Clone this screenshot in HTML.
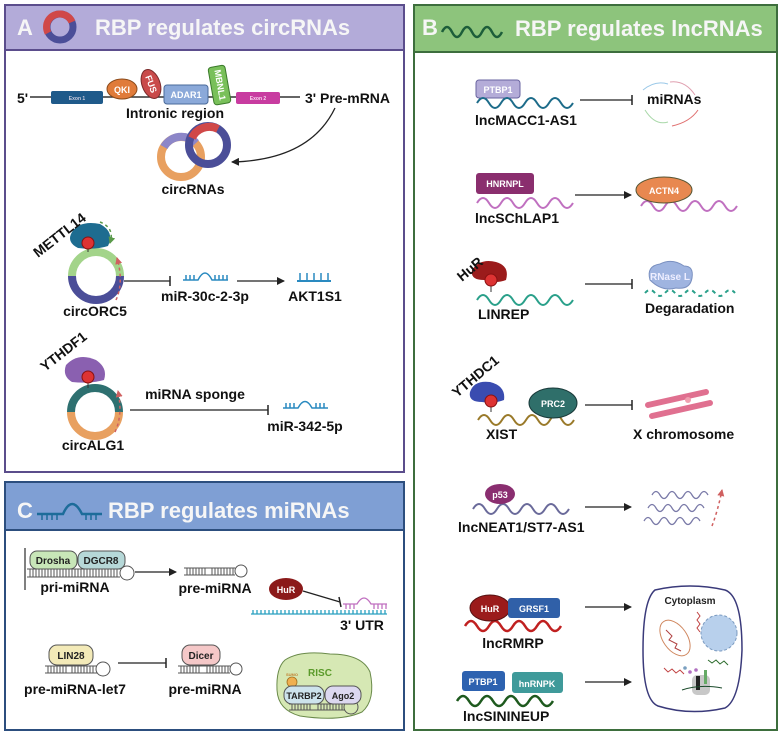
<!DOCTYPE html>
<html><head><meta charset="utf-8"><style>
html,body{margin:0;padding:0;background:#fff}
svg{display:block}
text{font-family:"Liberation Sans",Arial,sans-serif;font-weight:bold}
.lb{font-size:14px;fill:#111}
.h{font-size:22px;fill:#f6f6f6}
.sm{font-size:9px;fill:#fff}
</style></head><body>
<svg width="782" height="735" viewBox="0 0 782 735" xmlns="http://www.w3.org/2000/svg">
<defs>
<marker id="ar" markerWidth="8" markerHeight="8" refX="7" refY="4" orient="auto" markerUnits="userSpaceOnUse"><path d="M0,0 L8,4 L0,8 z" fill="#222"/></marker>
<marker id="arR" markerWidth="7" markerHeight="7" refX="6" refY="3.5" orient="auto" markerUnits="userSpaceOnUse"><path d="M0,0 L7,3.5 L0,7 z" fill="#d06060"/></marker>
<marker id="arG" markerWidth="7" markerHeight="7" refX="6" refY="3.5" orient="auto" markerUnits="userSpaceOnUse"><path d="M0,0 L7,3.5 L0,7 z" fill="#5a9a4a"/></marker>
</defs>

<!-- PANEL A -->
<rect x="5" y="5" width="399" height="467" fill="#fff" stroke="#5b4d8c" stroke-width="2"/>
<rect x="5" y="5" width="399" height="45" fill="#b3abd9" stroke="#5b4d8c" stroke-width="2"/>
<text x="17" y="35" class="h">A</text>
<circle cx="60" cy="27" r="13" fill="none" stroke="#4b4e98" stroke-width="7"/>
<path d="M60 14 A13 13 0 0 0 48 33" fill="none" stroke="#d04848" stroke-width="7"/>
<path d="M60 14 A13 13 0 0 1 72 22" fill="none" stroke="#d04848" stroke-width="7"/>
<text x="95" y="35" class="h">RBP regulates circRNAs</text>

<line x1="30" y1="97" x2="300" y2="97" stroke="#333" stroke-width="1.5"/>
<text x="17" y="103" class="lb">5'</text>
<rect x="51" y="91" width="52" height="13" rx="2" fill="#1f5a8a"/>
<text x="77" y="100" font-size="5" fill="#ccd" text-anchor="middle">Exon 1</text>
<ellipse cx="122" cy="89" rx="15" ry="10" fill="#e07b3a" stroke="#8a4a1a"/>
<text x="122" y="93" class="sm" text-anchor="middle">QKI</text>
<ellipse cx="151" cy="84" rx="9" ry="15" fill="#c94a4a" stroke="#7a2a2a" transform="rotate(-20 151 84)"/>
<text x="151" y="87" class="sm" text-anchor="middle" transform="rotate(70 151 84)">FUS</text>
<rect x="164" y="85" width="44" height="19" rx="3" fill="#8ba9d9" stroke="#4a6a9a"/>
<text x="186" y="98" class="sm" text-anchor="middle">ADAR1</text>
<rect x="211" y="66" width="17" height="38" rx="3" fill="#79c05a" stroke="#3a7a2a" transform="rotate(-10 220 85)"/>
<text x="220" y="88" class="sm" text-anchor="middle" transform="rotate(80 220 85)">MBNL1</text>
<rect x="236" y="92" width="44" height="12" rx="2" fill="#c83ca0"/>
<text x="258" y="100" font-size="5" fill="#f8d8f0" text-anchor="middle">Exon 2</text>
<text x="305" y="103" class="lb">3' Pre-mRNA</text>
<text x="175" y="118" class="lb" text-anchor="middle">Intronic region</text>
<path d="M335 108 Q310 160 232 162" fill="none" stroke="#222" stroke-width="1.3" marker-end="url(#ar)"/>
<circle cx="181" cy="157" r="20" fill="none" stroke="#e8a060" stroke-width="8"/>
<path d="M164 147 A20 20 0 0 1 196 143" fill="none" stroke="#8c86c8" stroke-width="8"/>
<circle cx="208" cy="145" r="19" fill="none" stroke="#4b4e98" stroke-width="8"/>
<path d="M192 138 A19 19 0 0 1 218 129" fill="none" stroke="#d04848" stroke-width="8"/>
<text x="193" y="194" class="lb" text-anchor="middle">circRNAs</text>

<!-- circORC5 -->
<path d="M72 276 A24 24 0 0 1 120 276" fill="none" stroke="#a3d48a" stroke-width="8"/>
<path d="M72 276 A24 24 0 0 0 120 276" fill="none" stroke="#4b4e98" stroke-width="8"/>
<path d="M72 232 Q80 220 100 224 Q115 232 108 246 Q96 250 78 248 Q66 242 72 232z" fill="#1d6c90"/>
<line x1="88" y1="244" x2="88" y2="252" stroke="#333"/>
<circle cx="88" cy="243" r="6" fill="#d33" stroke="#811"/>
<text x="38" y="258" class="lb" font-size="13" transform="rotate(-38 38 258)">METTL14</text>
<path d="M100 222 Q115 228 110 243" fill="none" stroke="#5a9a4a" stroke-width="1.5" stroke-dasharray="3,3" marker-end="url(#arG)"/>
<path d="M116 300 Q124 282 117 258" fill="none" stroke="#d06060" stroke-width="1.5" stroke-dasharray="3,3" marker-end="url(#arR)"/>
<line x1="124" y1="281" x2="170" y2="281" stroke="#222" stroke-width="1.3"/>
<line x1="170" y1="276" x2="170" y2="286" stroke="#222" stroke-width="1.5"/>
<g stroke="#2a8ac0" stroke-width="1.5" fill="none">
<path d="M183 280 H198 Q205 266 212 280 H228"/>
<path d="M186 280v-5M190 280v-5M194 280v-5M215 280v-5M219 280v-5M223 280v-5M227 280v-5"/>
</g>
<text x="205" y="301" class="lb" text-anchor="middle">miR-30c-2-3p</text>
<line x1="237" y1="281" x2="284" y2="281" stroke="#222" stroke-width="1.3" marker-end="url(#ar)"/>
<g stroke="#2a8ac0" stroke-width="2" fill="none"><path d="M297 281H331"/><path d="M300 281v-8M307 281v-8M314 281v-8M321 281v-8M328 281v-8" stroke-width="1.5"/></g>
<text x="315" y="301" class="lb" text-anchor="middle">AKT1S1</text>
<text x="95" y="316" class="lb" text-anchor="middle">circORC5</text>

<!-- circALG1 -->
<path d="M71 412 A24 24 0 0 1 119 412" fill="none" stroke="#2e7070" stroke-width="8"/>
<path d="M71 412 A24 24 0 0 0 119 412" fill="none" stroke="#e8a060" stroke-width="8"/>
<path d="M66 365 Q78 352 96 360 Q108 368 104 380 Q90 384 72 382 Q62 376 66 365z" fill="#8a60b0"/>
<line x1="88" y1="380" x2="88" y2="388" stroke="#333"/>
<circle cx="88" cy="377" r="6" fill="#d33" stroke="#811"/>
<text x="45" y="372" class="lb" font-size="13" transform="rotate(-38 45 372)">YTHDF1</text>
<path d="M115 432 Q123 415 118 391" fill="none" stroke="#d06060" stroke-width="1.5" stroke-dasharray="3,3" marker-end="url(#arR)"/>
<line x1="130" y1="410" x2="268" y2="410" stroke="#222" stroke-width="1.3"/>
<line x1="268" y1="405" x2="268" y2="415" stroke="#222" stroke-width="1.5"/>
<text x="195" y="399" class="lb" text-anchor="middle">miRNA sponge</text>
<g stroke="#2a8ac0" stroke-width="1.5" fill="none">
<path d="M283 408 H298 Q305 395 312 408 H328"/>
<path d="M286 408v-5M290 408v-5M294 408v-5M316 408v-5M320 408v-5M324 408v-5"/>
</g>
<text x="305" y="431" class="lb" text-anchor="middle">miR-342-5p</text>
<text x="93" y="450" class="lb" text-anchor="middle">circALG1</text>

<!-- PANEL C -->
<rect x="5" y="482" width="399" height="248" fill="#fff" stroke="#2c4e7e" stroke-width="2"/>
<rect x="5" y="482" width="399" height="48" fill="#7f9fd4" stroke="#2c4e7e" stroke-width="2"/>
<text x="17" y="518" class="h">C</text>
<g stroke="#1d6c9a" stroke-width="2.5" fill="none"><path d="M37 514H63 Q72 494 82 514H102"/><path d="M42 514v6M47 514v6M52 514v6M57 514v6M86 514v6M91 514v6M96 514v6" stroke-width="1.5"/></g>
<text x="108" y="518" class="h">RBP regulates miRNAs</text>

<line x1="25" y1="548" x2="25" y2="590" stroke="#555" stroke-width="1.5"/>
<g stroke="#555" stroke-width="1" fill="none">
<path d="M27 569H120M27 577H120"/>
<path d="M30 569v8M33 569v8M36 569v8M39 569v8M42 569v8M45 569v8M48 569v8M51 569v8M54 569v8M57 569v8M60 569v8M63 569v8M66 569v8M69 569v8M72 569v8M75 569v8M78 569v8M81 569v8M84 569v8M87 569v8M90 569v8M93 569v8M96 569v8M99 569v8M102 569v8M105 569v8M108 569v8M111 569v8M114 569v8M117 569v8"/>
<circle cx="127" cy="573" r="7" fill="#fff"/>
</g>
<rect x="30" y="551" width="47" height="18" rx="7" fill="#c8e6b8" stroke="#555"/>
<text x="53" y="564" font-size="10" fill="#222" text-anchor="middle">Drosha</text>
<rect x="78" y="551" width="47" height="18" rx="7" fill="#b6d8d8" stroke="#555"/>
<text x="101" y="564" font-size="10" fill="#222" text-anchor="middle">DGCR8</text>
<text x="75" y="592" class="lb" text-anchor="middle">pri-miRNA</text>
<line x1="135" y1="572" x2="176" y2="572" stroke="#222" stroke-width="1.3" marker-end="url(#ar)"/>
<g stroke="#555" stroke-width="1" fill="none">
<path d="M184 568H235M184 575H235"/>
<path d="M187 568v7M190 568v7M193 568v7M196 568v7M199 568v7M202 568v7M205 568v7M212 568v7M215 568v7M218 568v7M221 568v7M224 568v7M227 568v7M230 568v7M233 568v7"/>
<circle cx="241" cy="571" r="6" fill="#fff"/>
</g>
<text x="215" y="593" class="lb" text-anchor="middle">pre-miRNA</text>
<ellipse cx="286" cy="589" rx="17" ry="11" fill="#8b1a1a"/>
<text x="286" y="593" class="sm" font-size="10" text-anchor="middle">HuR</text>
<line x1="303" y1="591" x2="340" y2="602" stroke="#222" stroke-width="1.3"/>
<line x1="339" y1="597" x2="341" y2="607" stroke="#222" stroke-width="1.5"/>
<g stroke="#c070c0" stroke-width="1.3" fill="none"><path d="M343 604H357 Q364 592 371 604H387"/><path d="M346 604v5M350 604v5M354 604v5M374 604v5M378 604v5M382 604v5M386 604v5"/></g>
<g stroke="#2aa0c0" stroke-width="1.3"><path d="M251 614H387"/><path d="M253 614v-4M257 614v-4M261 614v-4M265 614v-4M269 614v-4M273 614v-4M277 614v-4M281 614v-4M285 614v-4M289 614v-4M293 614v-4M297 614v-4M301 614v-4M305 614v-4M309 614v-4M313 614v-4M317 614v-4M321 614v-4M325 614v-4M329 614v-4M333 614v-4M337 614v-4M341 614v-4M345 614v-4M349 614v-4M353 614v-4M357 614v-4M361 614v-4M365 614v-4M369 614v-4M373 614v-4M377 614v-4M381 614v-4M385 614v-4"/></g>
<text x="362" y="630" class="lb" text-anchor="middle">3' UTR</text>

<g stroke="#555" stroke-width="1" fill="none">
<path d="M45 666H97M45 673H97"/>
<path d="M48 666v7M51 666v7M54 666v7M57 666v7M60 666v7M63 666v7M66 666v7M72 666v7M75 666v7M78 666v7M81 666v7M84 666v7M87 666v7M90 666v7M93 666v7"/>
<circle cx="103" cy="669" r="7" fill="#fff"/>
</g>
<rect x="49" y="645" width="44" height="20" rx="8" fill="#f3eab8" stroke="#555"/>
<text x="71" y="659" font-size="10" fill="#222" text-anchor="middle">LIN28</text>
<text x="75" y="694" class="lb" text-anchor="middle">pre-miRNA-let7</text>
<line x1="118" y1="663" x2="166" y2="663" stroke="#222" stroke-width="1.3"/>
<line x1="166" y1="658" x2="166" y2="668" stroke="#222" stroke-width="1.5"/>
<g stroke="#555" stroke-width="1" fill="none">
<path d="M178 666H230M178 673H230"/>
<path d="M181 666v7M184 666v7M187 666v7M190 666v7M193 666v7M196 666v7M199 666v7M207 666v7M210 666v7M213 666v7M216 666v7M219 666v7M222 666v7M225 666v7M228 666v7"/>
<circle cx="236" cy="669" r="6" fill="#fff"/>
</g>
<rect x="182" y="645" width="38" height="20" rx="8" fill="#f5c8c8" stroke="#555"/>
<text x="201" y="659" font-size="10" fill="#222" text-anchor="middle">Dicer</text>
<text x="205" y="694" class="lb" text-anchor="middle">pre-miRNA</text>

<path d="M285 660 Q300 650 330 654 Q362 654 370 672 Q376 700 362 712 Q340 722 300 716 Q278 710 277 690 Q276 668 285 660z" fill="#d6e8b4" stroke="#6a8a4a"/>
<text x="320" y="676" font-size="10" fill="#5a9a2a" text-anchor="middle">RISC</text>
<text x="292" y="676" font-size="4" fill="#c08030" text-anchor="middle">SUMO</text>
<circle cx="292" cy="682" r="5" fill="#f0b050" stroke="#a07020" stroke-width="0.8"/>
<g stroke="#555" stroke-width="1" fill="none">
<path d="M289 704H345M289 710H345"/>
<path d="M292 704v6M295 704v6M298 704v6M301 704v6M304 704v6M307 704v6M310 704v6M318 704v6M321 704v6M324 704v6M327 704v6M330 704v6M333 704v6M336 704v6M339 704v6M342 704v6"/>
<circle cx="351" cy="707" r="7" fill="none"/>
</g>
<rect x="284" y="686" width="40" height="18" rx="8" fill="#cde3ec" stroke="#555"/>
<text x="304" y="699" font-size="9" fill="#222" text-anchor="middle">TARBP2</text>
<rect x="325" y="686" width="36" height="18" rx="8" fill="#dcd8f0" stroke="#555"/>
<text x="343" y="699" font-size="9" fill="#222" text-anchor="middle">Ago2</text>

<!-- PANEL B -->
<rect x="414" y="5" width="363" height="725" fill="#fff" stroke="#3d6e3d" stroke-width="2"/>
<rect x="414" y="5" width="363" height="47" fill="#8dc47c" stroke="#3d6e3d" stroke-width="2"/>
<text x="422" y="35" class="h">B</text>
<path d="M442 32 q5 -10 10 0 t10 0 t10 0 t10 0 t10 0 t10 0" fill="none" stroke="#1d5e3a" stroke-width="2.5"/>
<text x="515" y="36" class="h">RBP regulates lncRNAs</text>

<!-- row1 -->
<rect x="476" y="80" width="44" height="18" rx="3" fill="#b4acd8" stroke="#6a64a0"/>
<text x="498" y="93" class="sm" text-anchor="middle">PTBP1</text>
<path d="M477 103 q6 -10 12 0 t12 0 t12 0 t12 0 t12 0 t12 0 t12 0 t12 0" fill="none" stroke="#1d6c8a" stroke-width="2"/>
<text x="475" y="125" class="lb">lncMACC1-AS1</text>
<line x1="580" y1="100" x2="632" y2="100" stroke="#222" stroke-width="1.3"/>
<line x1="632" y1="95" x2="632" y2="105" stroke="#222" stroke-width="1.5"/>
<g fill="none" stroke-width="1">
<path d="M643 90 Q655 80 668 84" stroke="#9ac8e8"/>
<path d="M670 82 Q685 80 695 95" stroke="#e0a0b0"/>
<path d="M645 110 Q655 126 668 122" stroke="#a8d8a8"/>
<path d="M672 126 Q690 122 698 110" stroke="#e07070"/>
</g>
<text x="647" y="104" class="lb">miRNAs</text>

<!-- row2 -->
<rect x="476" y="173" width="58" height="21" rx="3" fill="#8a2e6e"/>
<text x="505" y="187" class="sm" font-size="10" text-anchor="middle">HNRNPL</text>
<path d="M477 203 q6 -10 12 0 t12 0 t12 0 t12 0 t12 0 t12 0 t12 0 t12 0" fill="none" stroke="#c070c0" stroke-width="2"/>
<text x="475" y="223" class="lb">lncSChLAP1</text>
<line x1="575" y1="195" x2="631" y2="195" stroke="#222" stroke-width="1.3" marker-end="url(#ar)"/>
<path d="M641 206 q6 -10 12 0 t12 0 t12 0 t12 0 t12 0 t12 0 t12 0 t12 0" fill="none" stroke="#c070c0" stroke-width="2"/>
<ellipse cx="664" cy="190" rx="28" ry="13" fill="#e88850" stroke="#553"/>
<text x="664" y="194" class="sm" text-anchor="middle">ACTN4</text>

<!-- row3 -->
<path d="M472 270 Q480 258 496 262 Q510 266 506 280 Q496 284 484 280 Q470 280 472 270z" fill="#9b1b1b"/>
<text x="462" y="282" class="lb" font-size="12" transform="rotate(-40 462 282)">HuR</text>
<line x1="491" y1="282" x2="491" y2="292" stroke="#333"/>
<circle cx="491" cy="280" r="6" fill="#d33" stroke="#811"/>
<path d="M477 300 q6 -10 12 0 t12 0 t12 0 t12 0 t12 0 t12 0 t12 0 t12 0" fill="none" stroke="#2aa08a" stroke-width="2"/>
<text x="478" y="319" class="lb">LINREP</text>
<line x1="585" y1="284" x2="632" y2="284" stroke="#222" stroke-width="1.3"/>
<line x1="632" y1="279" x2="632" y2="289" stroke="#222" stroke-width="1.5"/>
<path d="M650 280 Q646 266 660 264 Q672 258 684 266 Q694 266 692 278 Q690 290 676 288 Q662 292 650 280z" fill="#9fb4e0" stroke="#7a90c0"/>
<text x="670" y="280" font-size="10" fill="#eef" text-anchor="middle">RNase L</text>
<path d="M645 293 q5 -6 10 0 t10 0 t10 0 t10 0 t10 0 t10 0 t10 0 t10 0 t10 0" fill="none" stroke="#2aa08a" stroke-width="2" stroke-dasharray="4,4"/>
<text x="645" y="313" class="lb">Degaradation</text>

<!-- row4 -->
<path d="M470 392 Q474 380 490 382 Q506 386 504 400 Q494 404 482 402 Q468 402 470 392z" fill="#3a4cb0"/>
<text x="457" y="398" class="lb" font-size="12" transform="rotate(-40 457 398)">YTHDC1</text>
<line x1="491" y1="402" x2="491" y2="412" stroke="#333"/>
<circle cx="491" cy="401" r="6" fill="#d33" stroke="#811"/>
<path d="M478 420 q6 -10 12 0 t12 0 t12 0 t12 0 t12 0 t12 0 t12 0 t12 0" fill="none" stroke="#9a7a2a" stroke-width="2"/>
<ellipse cx="553" cy="403" rx="24" ry="15" fill="#2f6f6a" stroke="#1a3a3a"/>
<text x="553" y="407" class="sm" font-size="10" text-anchor="middle">PRC2</text>
<text x="486" y="439" class="lb">XIST</text>
<line x1="585" y1="405" x2="632" y2="405" stroke="#222" stroke-width="1.3"/>
<line x1="632" y1="400" x2="632" y2="410" stroke="#222" stroke-width="1.5"/>
<g stroke="#e07090" stroke-width="6" stroke-linecap="round">
<line x1="648" y1="405" x2="706" y2="392"/>
<line x1="652" y1="416" x2="710" y2="403"/>
</g>
<circle cx="688" cy="400" r="3" fill="#f0a0b0"/>
<text x="633" y="439" class="lb">X chromosome</text>

<!-- row5 -->
<path d="M473 509 q6 -10 12 0 t12 0 t12 0 t12 0 t12 0 t12 0 t12 0 t12 0" fill="none" stroke="#6a6a9a" stroke-width="2"/>
<ellipse cx="500" cy="494" rx="15" ry="10" fill="#8a2e70"/>
<text x="500" y="498" class="sm" font-size="10" text-anchor="middle">p53</text>
<text x="458" y="532" class="lb">lncNEAT1/ST7-AS1</text>
<line x1="585" y1="507" x2="631" y2="507" stroke="#222" stroke-width="1.3" marker-end="url(#ar)"/>
<g fill="none" stroke="#7a7aa8" stroke-width="1.3">
<path d="M652 495 q4 -7 8 0 t8 0 t8 0 t8 0 t8 0 t8 0 t8 0"/>
<path d="M648 508 q4 -7 8 0 t8 0 t8 0 t8 0 t8 0 t8 0 t8 0"/>
<path d="M644 521 q4 -7 8 0 t8 0 t8 0 t8 0 t8 0 t8 0 t8 0"/>
</g>
<path d="M712 526 Q718 510 722 490" fill="none" stroke="#d06060" stroke-width="1.5" stroke-dasharray="3,3" marker-end="url(#arR)"/>

<!-- row6 -->
<path d="M465 626 q6 -10 12 0 t12 0 t12 0 t12 0 t12 0 t12 0 t12 0 t12 0" fill="none" stroke="#c02020" stroke-width="2.5"/>
<ellipse cx="490" cy="608" rx="20" ry="13" fill="#9b1b1b" stroke="#511"/>
<text x="490" y="612" class="sm" font-size="11" text-anchor="middle">HuR</text>
<rect x="508" y="598" width="52" height="20" rx="3" fill="#3060a8"/>
<text x="534" y="612" class="sm" font-size="11" text-anchor="middle">GRSF1</text>
<text x="513" y="648" class="lb" text-anchor="middle">lncRMRP</text>
<line x1="585" y1="607" x2="631" y2="607" stroke="#222" stroke-width="1.3" marker-end="url(#ar)"/>
<line x1="585" y1="682" x2="631" y2="682" stroke="#222" stroke-width="1.3" marker-end="url(#ar)"/>
<path d="M655 590 Q690 582 725 590 Q742 596 742 650 Q740 700 725 708 Q690 716 658 706 Q643 700 643 650 Q643 600 655 590z" fill="#fff" stroke="#3a3a7a" stroke-width="1.5"/>
<text x="690" y="604" font-size="10" fill="#222" text-anchor="middle">Cytoplasm</text>
<circle cx="719" cy="633" r="18" fill="#b8d0ec" stroke="#7a9ac0" stroke-dasharray="3,2"/>
<ellipse cx="675" cy="638" rx="12" ry="20" fill="none" stroke="#d08860" transform="rotate(-35 675 638)"/>
<path d="M666 630 l6 6 l-3 4 l8 4 l-2 4 l6 3" fill="none" stroke="#b04040"/>
<path d="M697 612 l3 4 l-3 4 l3 4 l-3 4 l3 4" fill="none" stroke="#c04040"/>
<path d="M664 668 l4 4 l4 -3 l4 4 l4 -3 l4 4" fill="none" stroke="#c04040"/>
<path d="M708 660 l4 3 l4 -3 l4 4 l4 -3 l4 4" fill="none" stroke="#2a6a2a"/>
<rect x="692" y="675" width="18" height="20" rx="5" fill="#c8c8c8"/>
<rect x="696" y="676" width="4" height="14" fill="#222"/>
<rect x="704" y="670" width="3" height="14" fill="#6a6"/>
<path d="M682 690 Q700 684 722 688" fill="none" stroke="#1a4a2a"/>
<circle cx="685" cy="668" r="1.8" fill="#7aa0c0"/><circle cx="690" cy="672" r="1.8" fill="#b070c0"/><circle cx="696" cy="670" r="1.8" fill="#b070c0"/>

<!-- row7 -->
<path d="M457 701 q6 -10 12 0 t12 0 t12 0 t12 0 t12 0 t12 0 t12 0 t12 0" fill="none" stroke="#1e5a1e" stroke-width="2.5"/>
<rect x="462" y="671" width="43" height="20" rx="3" fill="#2d62b0"/>
<text x="483" y="685" class="sm" font-size="11" text-anchor="middle">PTBP1</text>
<rect x="512" y="672" width="51" height="21" rx="3" fill="#3f9a9a"/>
<text x="537" y="687" class="sm" font-size="11" text-anchor="middle">hnRNPK</text>
<text x="463" y="721" class="lb">lncSININEUP</text>
</svg>
</body></html>
